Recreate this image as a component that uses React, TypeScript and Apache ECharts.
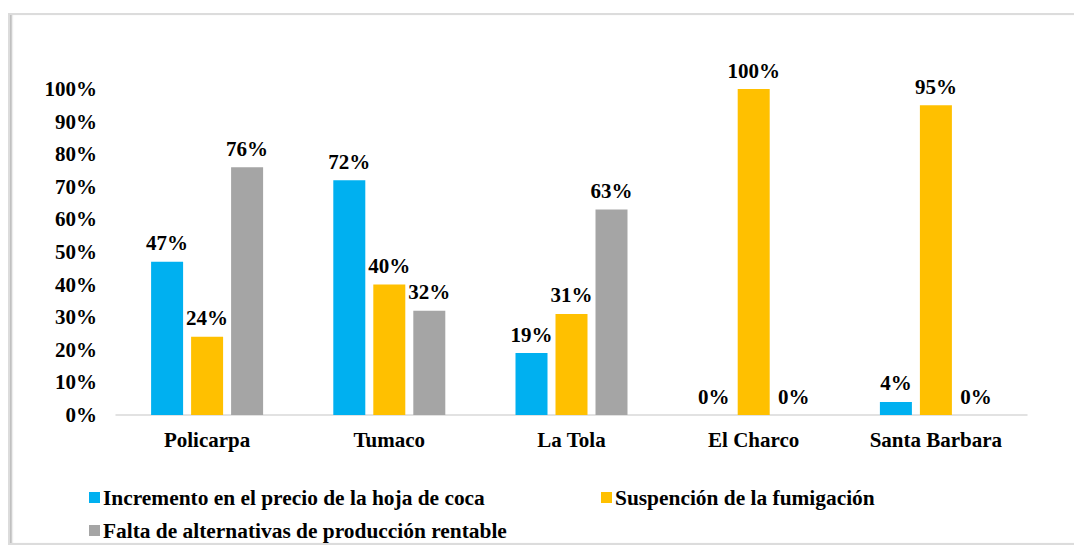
import React, { useEffect, useRef } from "react";
import * as echarts from "echarts";

const categories = ["Policarpa", "Tumaco", "La Tola", "El Charco", "Santa Barbara"];
const seriesNames = [
  "Incremento en el precio de la hoja de coca",
  "Suspención de la fumigación",
  "Falta de alternativas de producción rentable",
];
const incremento = [47, 72, 19, 0, 4];
const suspencion = [24, 40, 31, 100, 95];
const falta = [76, 32, 63, 0, 0];
const colors = ["#00B0F0", "#FFC000", "#A5A5A5"];

const FONT = "Liberation Serif";

export default function App() {
  const ref = useRef<HTMLDivElement>(null);
  useEffect(() => {
    if (!ref.current) return;
    const chart = echarts.init(ref.current, null, { renderer: "svg" });
    const values = [incremento, suspencion, falta];
    const textStyle = { fontFamily: FONT, fontWeight: "bold", fontSize: 21, color: "#000" };
    chart.setOption({
      animation: false,
      grid: { left: 116, right: 47, top: 89, bottom: 131, containLabel: false },
      xAxis: {
        type: "category",
        data: categories,
        axisLine: { lineStyle: { color: "#D9D9D9", width: 1.5 } },
        axisTick: { show: false },
        axisLabel: { ...textStyle, margin: 14 },
      },
      yAxis: {
        type: "value",
        min: 0,
        max: 100,
        interval: 10,
        splitLine: { show: false },
        axisLine: { show: false },
        axisTick: { show: false },
        axisLabel: { ...textStyle, margin: 19, formatter: (v: number) => v + "%" },
      },
      legend: seriesNames.map((n, i) => ({
        data: [n],
        left: [84, 596, 84][i],
        top: [482, 482, 515][i],
        icon: "rect",
        itemWidth: 11,
        itemHeight: 11,
        textStyle: { ...textStyle, fontSize: 21.4, padding: [0, 0, 0, -2] },
        selectedMode: false,
      })),
      series: seriesNames.map((n, i) => ({
        name: n,
        type: "bar",
        data: values[i],
        barWidth: 32,
        barGap: "25%",
        itemStyle: { color: colors[i] },
        label: {
          show: true,
          position: "top",
          distance: 8,
          formatter: (p: any) => p.value + "%",
          ...textStyle,
        },
      })),
    });
    return () => chart.dispose();
  }, []);
  return (
    <div style={{ position: "absolute", left: 0, top: 0, width: 1074, height: 546, overflow: "hidden", background: "#fff" }}>
      <div
        style={{
          position: "absolute",
          left: 8,
          top: 13,
          width: 1090,
          height: 528,
          border: "2px solid #DCDCDC",
          boxShadow: "inset 3px 0 2px -1px #BDBDBD",
        }}
      />
      <div ref={ref} style={{ position: "absolute", left: 0, top: 0, width: 1074, height: 546 }} />
    </div>
  );
}
